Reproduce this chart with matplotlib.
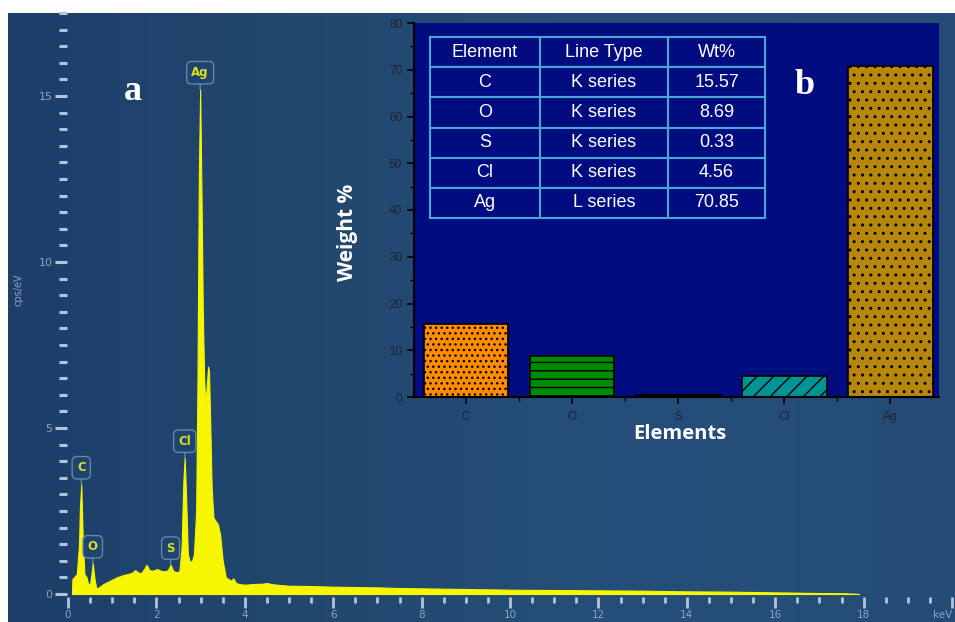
import numpy as np
import matplotlib
matplotlib.use("Agg")
import matplotlib.pyplot as plt
from matplotlib.colors import LinearSegmentedColormap
from matplotlib.ticker import MultipleLocator, FixedLocator

# EDS spectrum (energy in keV, intensity in cps/eV)
kev = [0.09, 0.10, 0.20, 0.25, 0.27, 0.30, 0.33, 0.37, 0.42, 0.46, 0.50, 0.53,
       0.56, 0.60, 0.64, 0.70, 0.80, 0.95, 1.10, 1.25, 1.35, 1.45, 1.52, 1.58,
       1.65, 1.72, 1.78, 1.84, 1.90, 1.96, 2.02, 2.10, 2.19, 2.26, 2.32, 2.38,
       2.45, 2.52, 2.57, 2.61, 2.64, 2.67, 2.71, 2.75, 2.80, 2.85, 2.90, 2.93,
       2.96, 2.99, 3.02, 3.05, 3.08, 3.11, 3.14, 3.17, 3.19, 3.22, 3.25, 3.29,
       3.34, 3.39, 3.44, 3.50, 3.57, 3.63, 3.69, 3.74, 3.80, 3.87, 4.0, 4.2,
       4.4, 4.5, 4.6, 4.8, 5.0, 5.5, 6.0, 6.5, 7.0, 7.5, 8.0, 9.0,
       10.0, 11.0, 12.0, 13.0, 14.0, 15.0, 16.0, 17.0, 17.6, 17.9]
cps = [0.0, 0.45, 0.6, 1.5, 2.6, 3.3, 1.8, 0.6, 0.5, 0.28, 0.3, 0.6,
       0.92, 0.45, 0.17, 0.2, 0.3, 0.4, 0.5, 0.57, 0.6, 0.64, 0.72, 0.66,
       0.62, 0.75, 0.88, 0.72, 0.7, 0.72, 0.75, 0.7, 0.68, 0.72, 0.88, 0.7,
       0.66, 0.68, 1.4, 3.4, 4.1, 3.0, 1.2, 1.0, 0.97, 1.2, 2.5, 6.5,
       12.5, 15.2, 12.0, 8.5, 6.5, 5.65, 6.3, 6.85, 6.7, 5.0, 3.2, 2.3,
       2.2, 2.1, 1.8, 1.0, 0.5, 0.45, 0.4, 0.47, 0.33, 0.3, 0.28, 0.3,
       0.31, 0.33, 0.3, 0.27, 0.25, 0.24, 0.22, 0.21, 0.2, 0.18, 0.17, 0.15,
       0.13, 0.12, 0.11, 0.1, 0.08, 0.07, 0.05, 0.03, 0.02, 0.0]

peak_names = ["C", "O", "S", "Cl", "Ag"]
peak_kev = [0.30, 0.56, 2.32, 2.64, 2.99]

x_ticks = [0, 2, 4, 6, 8, 10, 12, 14, 16, 18, 20]
x_labels = ["0", "2", "4", "6", "8", "10", "12", "14", "16", "18", "keV"]

# quantification (inset)
elements = ["C", "O", "S", "Cl", "Ag"]
line_type = ["K series", "K series", "K series", "K series", "L series"]
weight = [15.57, 8.69, 0.33, 4.56, 70.85]
bar_colors = ["#ff8c00", "#008c00", "#600000", "#009494", "#b8860b"]
bar_hatch = ["...", "--", "", "//", ".."]

W, H = 955, 622
def frac(x0, y0, x1, y1):
    return [x0 / W, 1 - y1 / H, (x1 - x0) / W, (y1 - y0) / H]

plt.rcParams["hatch.linewidth"] = 1.0
fig = plt.figure(figsize=(9.55, 6.22), dpi=100)
fig.patch.set_facecolor("white")

# ---- panel a : spectrum ----
ax = fig.add_axes(frac(8, 13, 955, 622))
xl = ((8 - 68) / 44.2, (955 - 68) / 44.2)
yl = ((594 - 622) / 33.2, (594 - 13) / 33.2)
bg = LinearSegmentedColormap.from_list("bg", ["#1d3f6a", "#22486f", "#254f7a", "#234b75"])
ax.imshow(np.linspace(0, 1, 256)[None, :], extent=(xl[0], xl[1], yl[0], yl[1]),
          aspect="auto", cmap=bg, zorder=0)
ax.set_xlim(xl)
ax.set_ylim(yl)

ax.fill_between(kev, cps, 0, color="#f6f600", edgecolor="#f6f600", lw=0.8, zorder=2)

edge = "#6586aa"
for name, e in zip(peak_names, peak_kev):
    top = np.interp(e, kev, cps)
    ax.annotate(name, xy=(e, top), xytext=(0, 12), textcoords="offset points",
                ha="center", va="center", fontsize=8.5, fontweight="bold", color="#dede1a",
                bbox=dict(boxstyle="round,pad=0.4", fc="#1f4470", ec=edge, lw=1),
                arrowprops=dict(arrowstyle="-", color=edge, lw=1, shrinkA=0, shrinkB=0),
                zorder=3)

for s in ax.spines.values():
    s.set_color("none")
ax.spines["left"].set_position(("data", -0.02))
ax.spines["bottom"].set_position(("data", -0.1))
ax.set_xticks(x_ticks, x_labels)
ax.get_xticklabels()[-1].set_ha("right")
ax.xaxis.set_minor_locator(FixedLocator(np.arange(0, 20.01, 0.5)))
ax.yaxis.set_major_locator(MultipleLocator(5))
ax.yaxis.set_minor_locator(FixedLocator(np.arange(0, 17.51, 0.5)))
tc = "#b4c4d6"
lc = "#8ea3ba"
ax.tick_params(axis="y", which="major", length=8.5, width=2.2, color=tc,
               labelcolor=lc, labelsize=8, pad=2)
ax.tick_params(axis="y", which="minor", length=5.5, width=2.2, color=tc)
ax.tick_params(axis="x", which="major", length=8, width=2, color=tc,
               labelcolor=lc, labelsize=7.5, pad=1)
ax.tick_params(axis="x", which="minor", length=4.2, width=2, color=tc)
ax.set_ylabel("cps/eV", color=lc, fontsize=7)
ax.yaxis.set_label_coords(0.0106, 0.545)
ax.yaxis.label.set_va("center")

fig.text(133 / W, 1 - 92 / H, "a", family="Liberation Serif", fontweight="bold",
         fontsize=26, color="white", ha="center", va="center")

# ---- panel b : weight % bar chart ----
ax2 = fig.add_axes(frac(414, 23, 939, 397))
ax2.set_facecolor("#000c80")
bars = ax2.bar(range(len(elements)), weight, width=0.8, color=bar_colors,
               edgecolor="black", linewidth=1.2)
for b, h in zip(bars, bar_hatch):
    b.set_hatch(h)
ax2.set_xlim(-0.49, 4.46)
ax2.set_ylim(0, 80)
ax2.set_xticks(range(len(elements)), elements)
ax2.set_xticks([0.5, 1.5, 2.5, 3.5], minor=True)
ax2.yaxis.set_major_locator(MultipleLocator(10))
ax2.yaxis.set_minor_locator(MultipleLocator(5))
for side in ["top", "right"]:
    ax2.spines[side].set_visible(False)
for side in ["left", "bottom"]:
    ax2.spines[side].set_linewidth(1.5)
ax2.tick_params(which="major", length=5, width=1.2, color="black",
                labelcolor="#222230", labelsize=8.5)
ax2.tick_params(axis="x", which="major", pad=5)
ax2.tick_params(which="minor", length=3, width=1, color="black")
for t in ax2.get_xticklabels() + ax2.get_yticklabels():
    t.set_family("Liberation Sans")

ax2.set_ylabel("Weight %", family="Open Sans", fontweight="bold", fontsize=15, color="white")
ax2.yaxis.set_label_coords(-0.126, 0.441)
ax2.yaxis.label.set_va("center")
ax2.set_xlabel("Elements", family="Open Sans", fontweight="bold", fontsize=14.5, color="white")
ax2.xaxis.set_label_coords(0.507, -0.099)
ax2.xaxis.label.set_va("center")

rows = [[e, t, "%.2f" % w] for e, t, w in zip(elements, line_type, weight)]
tab = ax2.table(cellText=rows, colLabels=["Element", "Line Type", "Wt%"],
                cellLoc="center", colWidths=[110, 128, 97],
                bbox=[16 / 525, 179 / 374, 335 / 525, 181 / 374])
tab.auto_set_font_size(False)
tab.set_fontsize(13)
for cell in tab.get_celld().values():
    cell.set_facecolor("#000c80")
    cell.set_edgecolor("#4aa6da")
    cell.set_linewidth(1.5)
    cell.get_text().set_color("white")
    cell.get_text().set_family("Liberation Sans")

fig.text(805 / W, 1 - 85 / H, "b", family="Liberation Serif", fontweight="bold",
         fontsize=26, color="white", ha="center", va="center")

fig.savefig("out.png", dpi=100, facecolor="white")
